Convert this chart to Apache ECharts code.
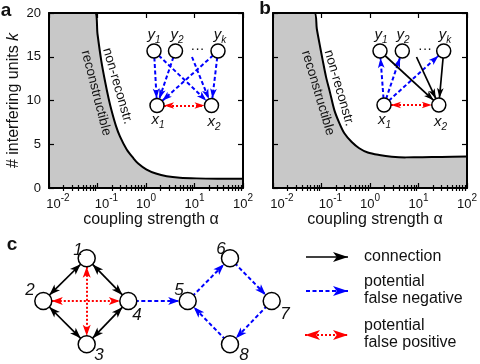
<!DOCTYPE html>
<html>
<head>
<meta charset="utf-8">
<script src="https://cdn.jsdelivr.net/npm/echarts@6/dist/echarts.min.js"></script>
<style>
html, body { margin: 0; padding: 0; background: #fff; }
#chart { width: 480px; height: 364px; }
</style>
</head>
<body>
<div id="chart"></div>
<script>
const FONT = 'Liberation Sans'

// boundary between reconstructible / non-reconstructible, read off panels a and b
const alphaA = [0.01, 0.089, 0.1, 0.12, 0.143, 0.17, 0.196, 0.24, 0.29, 0.4, 0.55, 0.69, 1.03, 1.6, 2.67, 5, 11, 30, 100]
const kA = [20, 20, 17.6, 14.5, 12.2, 10.2, 8.8, 7.1, 5.9, 4.4, 3.4, 2.8, 2.1, 1.65, 1.35, 1.18, 1.1, 1.06, 1.05]
const alphaB = [0.01, 0.0716, 0.08, 0.091, 0.105, 0.124, 0.15, 0.184, 0.23, 0.296, 0.42, 0.6, 0.9, 1.55, 2.8, 5.4, 12, 30, 100]
const kB = [20, 20, 18.2, 16.5, 14.7, 12.7, 10.9, 8.9, 7.5, 6.25, 5.25, 4.54, 4.05, 3.77, 3.58, 3.5, 3.52, 3.55, 3.6]

// axis ticks
const decades = [0.01, 0.1, 1, 10, 100]
const minorSteps = [2, 3, 4, 5, 6, 7, 8, 9]
const kMin = 0
const kMax = 20
const kStep = 5

// networks: [from, to, kind]  conn = connection, fn = potential false negative, fp = potential false positive
const edgesA = [['ay1', 'ax1', 'fn'], ['ay1', 'ax2', 'fn'], ['ay2', 'ax1', 'fn'], ['adots', 'ax2', 'fn'],
  ['ayk', 'ax1', 'fn'], ['ayk', 'ax2', 'fn'], ['ax1', 'ax2', 'fp']]
const edgesB = [['bx1', 'by1', 'fn'], ['bx1', 'by2', 'fn'], ['bx1', 'byk', 'fn'], ['by1', 'bx2', 'conn'],
  ['bdots', 'bx2', 'conn'], ['byk', 'bx2', 'conn'], ['bx1', 'bx2', 'fp']]
const edgesC = [['c1', 'c2', 'conn2'], ['c1', 'c4', 'conn2'], ['c2', 'c3', 'conn2'], ['c3', 'c4', 'conn2'],
  ['c1', 'c3', 'fp'], ['c2', 'c4', 'fp'], ['c4', 'c5', 'fn'], ['c5', 'c6', 'fn'], ['c6', 'c7', 'fn'],
  ['c7', 'c8', 'fn'], ['c8', 'c5', 'fn']]
const edgesLegend = [['l1a', 'l1b', 'conn'], ['l2a', 'l2b', 'fn'], ['l3a', 'l3b', 'fp']]
const legendTexts = ['connection', 'potential\nfalse negative', 'potential\nfalse positive']

// where the diagram nodes sit on the page (px) and how big they are
const nodeLayout = {
  ay1: [154, 51, 14], ay2: [175.5, 51, 14], ayk: [218, 51, 14], adots: [192, 57, 0], ax1: [157, 105.5, 14], ax2: [211.5, 105.5, 14],
  by1: [380, 51, 14], by2: [402.3, 51, 14], byk: [443.7, 51, 14], bdots: [416.5, 57, 0], bx1: [384, 105, 14], bx2: [438.8, 105, 14],
  c1: [86.7, 258.3, 17], c2: [43.3, 301, 17], c3: [86.7, 344.3, 17], c4: [128.3, 301, 17],
  c5: [187.7, 301, 17], c6: [230, 258.3, 17], c7: [271.7, 301, 17], c8: [230, 344.3, 17],
  l1a: [306, 257, 0], l1b: [348, 257, 0], l2a: [306, 291, 0], l2b: [348, 291, 0], l3a: [305, 335, 0], l3b: [348, 335, 0]
}

const edgeStyles = {
  conn: { symbol: ['none', 'arrow'], lineStyle: { color: '#000', width: 1.7, type: 'solid' } },
  conn2: { symbol: ['arrow', 'arrow'], lineStyle: { color: '#000', width: 1.7, type: 'solid' } },
  fn: { symbol: ['none', 'arrow'], lineStyle: { color: '#0000ff', width: 2, type: [4, 2.5] } },
  fp: { symbol: ['arrow', 'arrow'], lineStyle: { color: '#ff0000', width: 2, type: [2, 2] } }
}

let minorTicks = []
decades.slice(0, -1).forEach(function (d) {
  minorSteps.forEach(function (m) { minorTicks.push(d * m) })
})

function powLabel (v) {
  let e = Math.round(Math.log10(v))
  return (e < 0 ? '{n|10}' : '{b|10}') + '{s|' + e + '}'
}

function logAxes (gi) {
  let common = { gridIndex: gi, type: 'log', logBase: 10, min: 0.01, max: 100, z: 3, splitLine: { show: false } }
  let tickStyle = { color: '#000', width: 1.2 }
  let axes = []
  ;['bottom', 'top'].forEach(function (pos) {
    axes.push(Object.assign({}, common, {
      position: pos,
      axisLine: { show: true, onZero: false, lineStyle: { color: '#000', width: 2 } },
      axisTick: { show: true, inside: true, length: 5, customValues: decades, lineStyle: tickStyle },
      axisLabel: pos === 'bottom' ? {
        customValues: decades,
        margin: 5,
        formatter: powLabel,
        rich: {
          b: { fontSize: 13, fontFamily: FONT, color: '#111', lineHeight: 22 },
          n: { fontSize: 13, fontFamily: FONT, color: '#111', lineHeight: 22, padding: [0, 0, 0, 18] },
          s: { fontSize: 10, fontFamily: FONT, color: '#111', verticalAlign: 'top' }
        }
      } : { show: false }
    }))
    axes.push(Object.assign({}, common, {
      position: pos,
      axisLine: { show: false },
      axisTick: { show: true, inside: true, length: 3, customValues: minorTicks, lineStyle: tickStyle },
      axisLabel: { show: false }
    }))
  })
  axes[0].name = 'coupling strength α'
  axes[0].nameLocation = 'middle'
  axes[0].nameGap = 22
  axes[0].nameTextStyle = { fontSize: 16, fontFamily: FONT, color: '#111', padding: [0, 0, 0, 10] }
  return axes
}

function kAxes (gi, withText) {
  let axes = []
  ;['left', 'right'].forEach(function (pos) {
    axes.push({
      gridIndex: gi, type: 'value', min: kMin, max: kMax, interval: kStep, position: pos, z: 3,
      axisLine: { show: true, onZero: false, lineStyle: { color: '#000', width: 2 } },
      axisTick: { show: true, inside: true, length: 5, lineStyle: { color: '#000', width: 1.2 } },
      axisLabel: { show: withText && pos === 'left', color: '#111', fontSize: 13, fontFamily: FONT, margin: 8 },
      splitLine: { show: false }
    })
  })
  if (withText) {
    axes[0].name = '# interfering units {k|k}'
    axes[0].nameLocation = 'middle'
    axes[0].nameGap = 27
    axes[0].nameTextStyle = {
      fontSize: 16, fontFamily: FONT, color: '#111',
      rich: { k: { fontSize: 16, fontFamily: FONT, color: '#111', fontStyle: 'italic' } }
    }
  }
  return axes
}

function curveSeries (xi, yi, xs, ys) {
  return {
    type: 'line', xAxisIndex: xi, yAxisIndex: yi,
    data: xs.map(function (x, i) { return [x, ys[i]] }),
    showSymbol: false, smooth: 0.3,
    lineStyle: { color: '#000', width: 2 },
    areaStyle: { color: '#c8c8c8', opacity: 1 }
  }
}

let graphNodes = Object.keys(nodeLayout).map(function (n) {
  let p = nodeLayout[n]
  return { name: n, value: [p[0], p[1]], symbolSize: p[2] }
})

function arrowSize (e) {
  if (e[0].charAt(0) === 'l') return [[7.5, 15], [7.5, 15]]
  if (e[0].charAt(0) === 'c') return [[6, 11], [6, 11]]
  return [[5, 10], [5, 10]]
}

let graphLinks = edgesA.concat(edgesB, edgesC, edgesLegend).map(function (e) {
  let st = edgeStyles[e[2]]
  return { source: e[0], target: e[1], symbol: st.symbol, symbolSize: arrowSize(e), lineStyle: st.lineStyle }
})

// text on top of the plots and diagrams
function txt (x, y, text, font, extra) {
  return Object.assign({
    type: 'text', x: x, y: y, z: 100,
    style: Object.assign({ text: text, fill: '#111', align: 'center', verticalAlign: 'middle', fontFamily: FONT }, font)
  }, extra || {})
}
let subRich = {
  v: { fontSize: 15, fontStyle: 'italic', fontFamily: FONT, fill: '#111', lineHeight: 20 },
  s: { fontSize: 10, fontStyle: 'italic', fontFamily: FONT, fill: '#111', verticalAlign: 'bottom' }
}
const insetLabels = [['y', '1', 154, 35], ['y', '2', 177, 35], ['y', 'k', 220, 35], ['x', '1', 158, 120], ['x', '2', 214, 122],
  ['y', '1', 381, 35], ['y', '2', 403, 35], ['y', 'k', 445, 35], ['x', '1', 384.5, 120], ['x', '2', 440.5, 122]]
const netLabels = [['1', 78, 250], ['2', 30, 290], ['3', 99, 355], ['4', 137, 315], ['5', 179, 290], ['6', 221, 249], ['7', 285, 314], ['8', 244, 355]]

let graphics = [
  txt(6, 11, 'a', { fontSize: 19, fontWeight: 'bold' }),
  txt(265, 9, 'b', { fontSize: 19, fontWeight: 'bold' }),
  txt(12, 245, 'c', { fontSize: 19, fontWeight: 'bold' }),
  txt(96, 93, 'reconstructible', { fontSize: 13.5 }, { rotation: -1.32 }),
  txt(117.5, 86, 'non-reconstr.', { fontSize: 13.5 }, { rotation: -1.29 }),
  txt(318, 93, 'reconstructible', { fontSize: 13.5 }, { rotation: -1.28 }),
  txt(339, 88, 'non-reconstr.', { fontSize: 13.5 }, { rotation: -1.29 }),
  txt(197.5, 49, '···', { fontSize: 14 }),
  txt(425, 49, '···', { fontSize: 14 })
]
insetLabels.forEach(function (l) {
  graphics.push(txt(l[2], l[3], '{v|' + l[0] + '}{s|' + l[1] + '}', { rich: subRich }))
})
netLabels.forEach(function (l) {
  graphics.push(txt(l[1], l[2], l[0], { fontSize: 17, fontStyle: 'italic' }))
})
legendTexts.forEach(function (t, i) {
  graphics.push(txt(364, [257, 290, 334][i], t, { fontSize: 16, align: 'left', lineHeight: 17 }))
})

let myChart = echarts.init(document.getElementById('chart'))
let option = {
  animation: false,
  grid: [
    { left: 49, top: 13, width: 194, height: 175 },
    { left: 273, top: 13, width: 195, height: 175 },
    { left: 0, top: 0, width: 480, height: 364 }
  ],
  xAxis: logAxes(0).concat(logAxes(1), [{ gridIndex: 2, type: 'value', min: 0, max: 480, show: false }]),
  yAxis: kAxes(0, true).concat(kAxes(1, false), [{ gridIndex: 2, type: 'value', min: 0, max: 364, inverse: true, show: false }]),
  series: [
    curveSeries(0, 0, alphaA, kA),
    curveSeries(4, 2, alphaB, kB),
    {
      type: 'graph', coordinateSystem: 'cartesian2d', xAxisIndex: 8, yAxisIndex: 4, layout: 'none', z: 10,
      symbol: 'circle',
      itemStyle: { color: '#fff', borderColor: '#000', borderWidth: 1.5 },
      lineStyle: { opacity: 1, curveness: 0 },
      label: { show: false },
      data: graphNodes,
      links: graphLinks
    }
  ],
  graphic: graphics
}
myChart.setOption(option)
</script>
</body>
</html>
